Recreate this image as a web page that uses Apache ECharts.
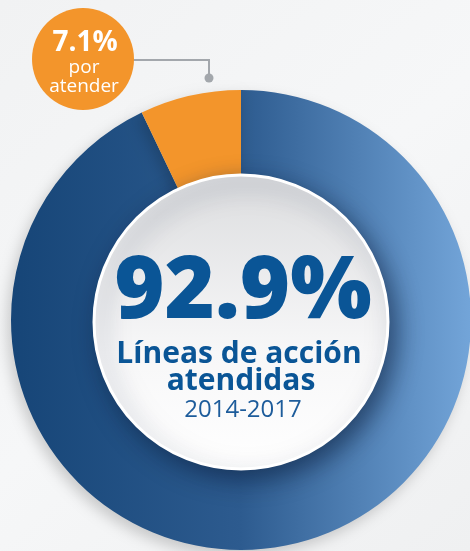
<!DOCTYPE html>
<html>
<head>
<meta charset="utf-8">
<script src="https://cdn.jsdelivr.net/npm/echarts@6/dist/echarts.min.js"></script>
<style>
  html, body { margin: 0; padding: 0; background: #f3f4f5; }
  #chart { width: 470px; height: 551px; }
</style>
</head>
<body>
<div id="chart"></div>
<script>
const categories = ['Líneas de acción atendidas', 'por atender']
const values = [92.9, 7.1]
const period = '2014-2017'

const cx = 241
const cy = 320
const blue = {
  type: 'linear', x: 0, y: 0, x2: 1, y2: 0,
  colorStops: [
    { offset: 0, color: '#164577' },
    { offset: 0.5, color: '#2d5b8f' },
    { offset: 1, color: '#73a5d9' }
  ]
}

const chart = echarts.init(document.getElementById('chart'))
chart.setOption({
  backgroundColor: {
    type: 'linear', x: 0, y: 0, x2: 1, y2: 1,
    colorStops: [
      { offset: 0, color: '#f1f2f3' },
      { offset: 0.5, color: '#f6f7f8' },
      { offset: 1, color: '#eff0f1' }
    ]
  },
  series: [
    {
      type: 'pie',
      center: [cx, cy],
      radius: [130, 230],
      startAngle: 90,
      clockwise: true,
      silent: true,
      label: { show: false },
      labelLine: { show: false },
      itemStyle: {
        shadowBlur: 14,
        shadowColor: 'rgba(0,0,0,0.18)',
        shadowOffsetX: -4,
        shadowOffsetY: 6
      },
      data: [
        { name: categories[0], value: values[0], itemStyle: { color: blue } },
        { name: categories[1], value: values[1], itemStyle: { color: '#f3952b' } }
      ]
    }
  ],
  graphic: [
    {
      type: 'circle',
      z: 10,
      shape: { cx: cx, cy: 322, r: 147 },
      style: {
        fill: {
          type: 'linear', x: 0, y: 0, x2: 0, y2: 1,
          colorStops: [
            { offset: 0, color: '#dcdddf' },
            { offset: 0.6, color: '#f7f7f8' },
            { offset: 1, color: '#ffffff' }
          ]
        },
        stroke: '#ffffff',
        lineWidth: 3,
        shadowBlur: 24,
        shadowColor: 'rgba(10,30,60,0.6)',
        shadowOffsetX: 7,
        shadowOffsetY: 9
      }
    },
    {
      type: 'text',
      z: 11,
      x: cx + 2, y: 293,
      style: {
        text: values[0].toFixed(1) + '%',
        fill: '#0a5596',
        font: '800 86px "Open Sans", sans-serif',
        align: 'center',
        verticalAlign: 'middle'
      }
    },
    {
      type: 'text',
      z: 11,
      x: cx - 2, y: 354,
      style: {
        text: 'Líneas de acción',
        fill: '#0a5596',
        font: 'bold 30px "Open Sans", sans-serif',
        align: 'center',
        verticalAlign: 'middle'
      }
    },
    {
      type: 'text',
      z: 11,
      x: cx, y: 381,
      style: {
        text: 'atendidas',
        fill: '#0a5596',
        font: 'bold 30px "Open Sans", sans-serif',
        align: 'center',
        verticalAlign: 'middle'
      }
    },
    {
      type: 'text',
      z: 11,
      x: cx + 2, y: 410,
      style: {
        text: period,
        fill: '#1d5c9b',
        font: '24px "Open Sans", sans-serif',
        align: 'center',
        verticalAlign: 'middle'
      }
    },
    {
      type: 'polyline',
      z: 10,
      shape: { points: [[130, 60], [209, 60], [209, 77]] },
      style: { stroke: '#a3a7ac', lineWidth: 2, fill: null }
    },
    {
      type: 'circle',
      z: 10,
      shape: { cx: 209, cy: 78, r: 4.5 },
      style: { fill: '#a3a7ac' }
    },
    {
      type: 'circle',
      z: 11,
      shape: { cx: 83, cy: 59, r: 51 },
      style: { fill: '#f3952b' }
    },
    {
      type: 'text',
      z: 12,
      x: 85, y: 43,
      style: {
        text: values[1].toFixed(1) + '%',
        fill: '#ffffff',
        font: 'bold 28px "Open Sans", sans-serif',
        align: 'center',
        verticalAlign: 'middle'
      }
    },
    {
      type: 'text',
      z: 12,
      x: 84, y: 68,
      style: {
        text: 'por',
        fill: '#ffffff',
        font: '19px "Open Sans", sans-serif',
        align: 'center',
        verticalAlign: 'middle'
      }
    },
    {
      type: 'text',
      z: 12,
      x: 84, y: 87,
      style: {
        text: 'atender',
        fill: '#ffffff',
        font: '19px "Open Sans", sans-serif',
        align: 'center',
        verticalAlign: 'middle'
      }
    }
  ]
})
</script>
</body>
</html>
